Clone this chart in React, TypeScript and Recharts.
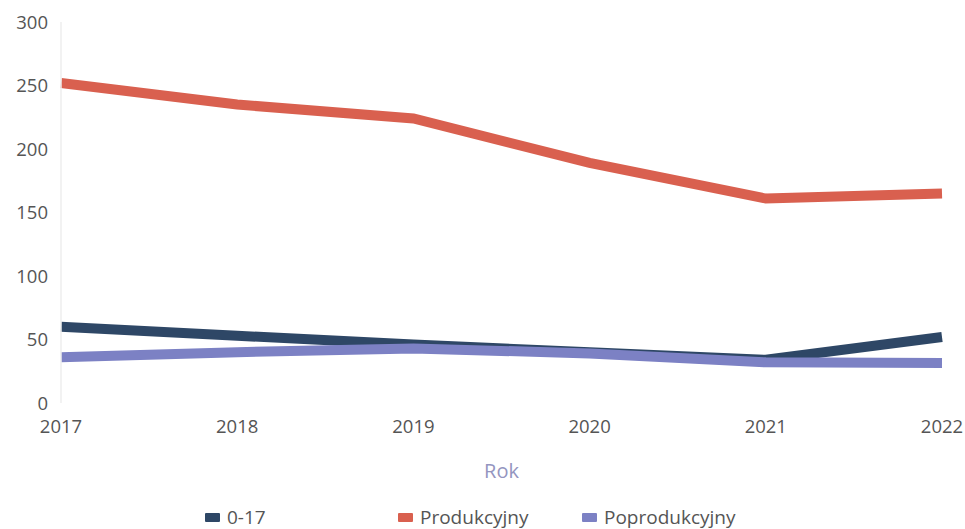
import React from 'react';
import { LineChart, Line, XAxis, YAxis, Legend } from 'recharts';

const years = ['2017', '2018', '2019', '2020', '2021', '2022'];
const kids = [60, 53, 46, 40, 34, 52];
const productive = [252, 235, 224, 189, 161, 165];
const postProductive = [36, 40, 43, 39, 32, 31.5];
const yTicks = [0, 50, 100, 150, 200, 250, 300];

const seriesNames = ['0-17', 'Produkcyjny', 'Poprodukcyjny'];
const seriesColors = ['#2e4766', '#d9604f', '#7c81c4'];
const seriesKeys = ['kids', 'productive', 'post'];

const data = years.map((y, i) => ({
  year: y,
  kids: kids[i],
  productive: productive[i],
  post: postProductive[i],
}));

const FONT = '"Open Sans", "Noto Sans", sans-serif';

const slotWidths = [193, 184, 200];

const LegendContent = () => (
  <div style={{ display: 'flex', paddingLeft: 205, paddingTop: 21, fontFamily: FONT }}>
    {seriesNames.map((n, i) => (
      <div key={n} style={{ width: slotWidths[i], display: 'flex', alignItems: 'center' }}>
        <span style={{ display: 'inline-block', width: 15, height: 9, background: seriesColors[i], marginRight: 7, borderRadius: 1 }} />
        <span style={{ fontSize: 19, color: '#555' }}>{n}</span>
      </div>
    ))}
  </div>
);

export default function App() {
  return (
    <div style={{ position: 'absolute', left: 0, top: 0, width: 965, height: 529, background: '#fff' }}>
      <LineChart width={965} height={529} data={data} margin={{ top: 22, right: 23, left: 0, bottom: 0 }}>
        <XAxis
          dataKey="year"
          axisLine={false}
          tickLine={false}
          tickSize={0}
          tickMargin={17}
          height={80}
          interval={0}
          tick={{ fill: '#555', fontSize: 18.5, fontFamily: FONT }}
          label={{ value: 'Rok', position: 'insideBottom', offset: 5, fill: '#9495c0', fontSize: 20, fontFamily: FONT }}
        />
        <YAxis
          domain={[0, 300]}
          ticks={yTicks}
          width={61}
          axisLine={{ stroke: '#eeeeee', strokeWidth: 1.5 }}
          tickLine={false}
          tickSize={0}
          tickMargin={13}
          tick={{ fill: '#555', fontSize: 18.5, fontFamily: FONT }}
        />
        <Legend verticalAlign="bottom" height={46} content={<LegendContent />} />
        {seriesKeys.map((k, i) => (
          <Line
            key={k}
            type="linear"
            dataKey={k}
            name={seriesNames[i]}
            stroke={seriesColors[i]}
            strokeWidth={10}
            dot={false}
            activeDot={false}
            isAnimationActive={false}
          />
        ))}
      </LineChart>
    </div>
  );
}
